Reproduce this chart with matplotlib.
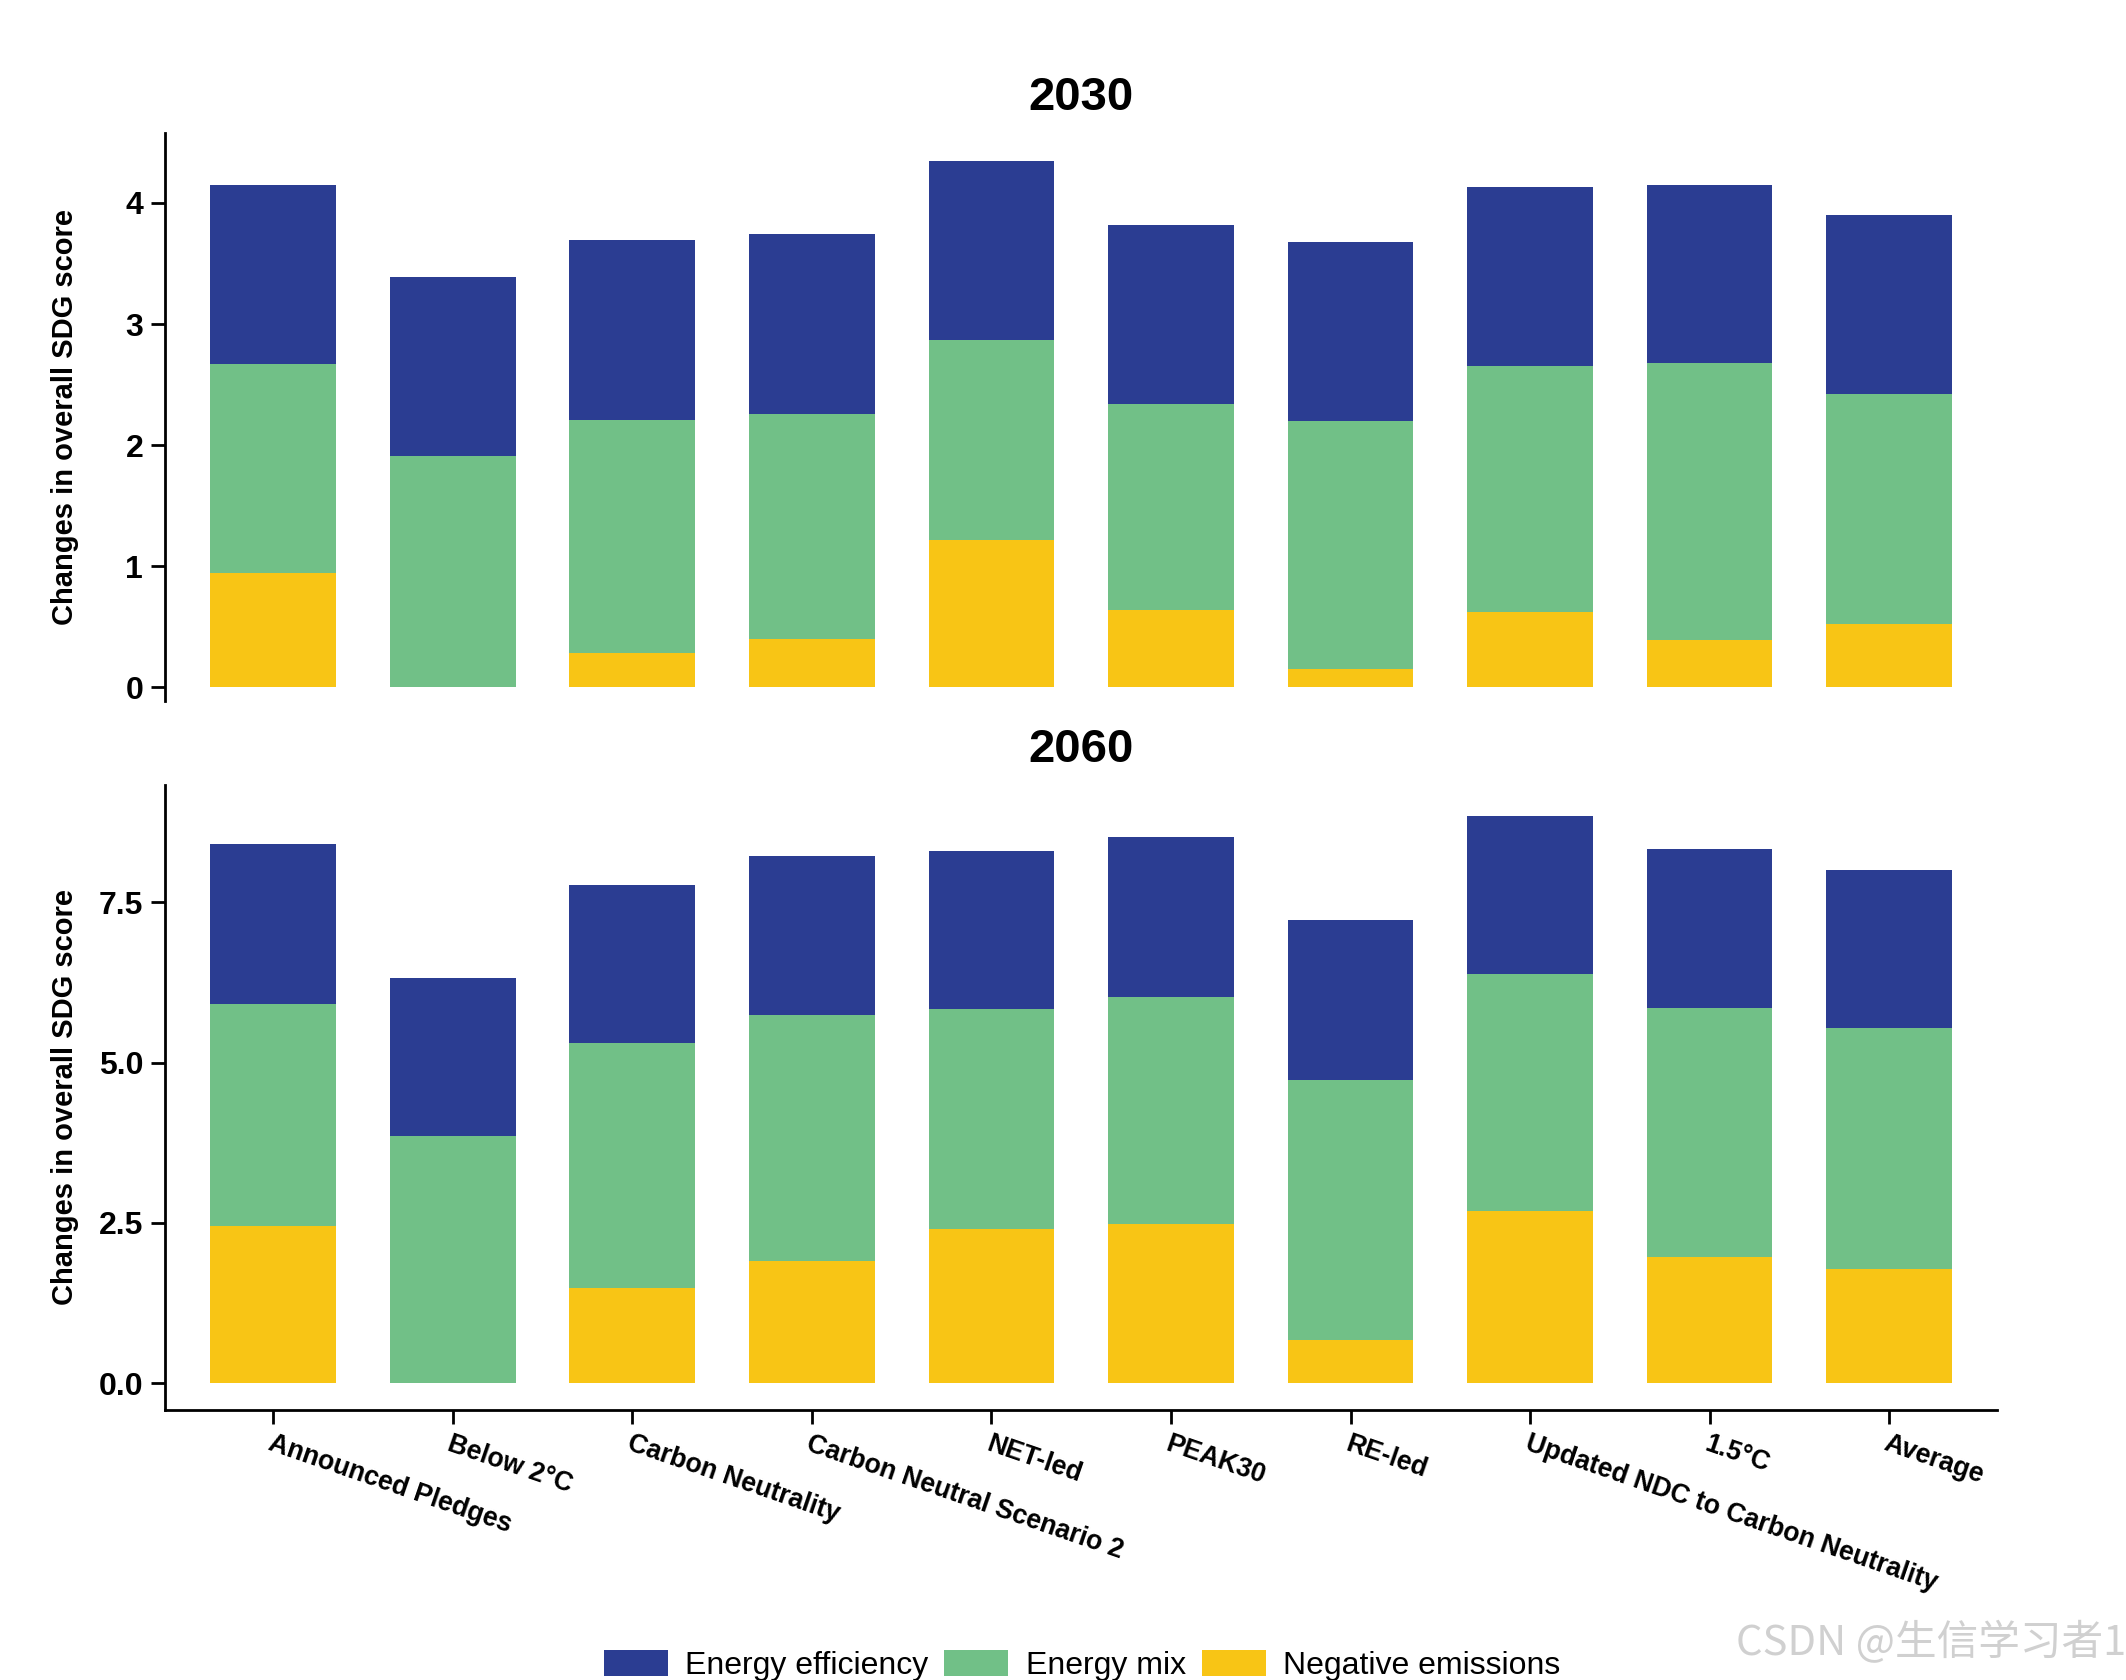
import matplotlib
matplotlib.use("Agg")
import matplotlib.pyplot as plt
import numpy as np

plt.rcParams['font.family'] = ['Liberation Sans', 'DejaVu Sans']

scenarios = ["Announced Pledges", "Below 2°C", "Carbon Neutrality", "Carbon Neutral Scenario 2",
             "NET-led", "PEAK30", "RE-led", "Updated NDC to Carbon Neutrality", "1.5°C", "Average"]

components = ["Energy efficiency", "Energy mix", "Negative emissions"]
colors = {"Energy efficiency": "#2B3D92", "Energy mix": "#71C087", "Negative emissions": "#F8C515"}

# 2030 segment values
neg_2030 = [0.94, 0.00, 0.28, 0.40, 1.22, 0.64, 0.15, 0.62, 0.39, 0.52]
mix_2030 = [1.73, 1.91, 1.93, 1.86, 1.65, 1.70, 2.05, 2.03, 2.29, 1.90]
eff_2030 = [1.48, 1.48, 1.48, 1.48, 1.48, 1.48, 1.48, 1.48, 1.47, 1.48]

# 2060 segment values
neg_2060 = [2.45, 0.00, 1.48, 1.90, 2.41, 2.49, 0.68, 2.68, 1.97, 1.78]
mix_2060 = [3.47, 3.85, 3.82, 3.85, 3.42, 3.53, 4.05, 3.70, 3.88, 3.76]
eff_2060 = [2.49, 2.47, 2.48, 2.47, 2.48, 2.50, 2.50, 2.47, 2.48, 2.47]

fig = plt.figure(figsize=(10.63, 8.4), dpi=200)
ax1 = fig.add_axes([0.0778, 0.583, 0.8615, 0.338])
ax2 = fig.add_axes([0.0778, 0.1607, 0.8615, 0.3723])

x = np.arange(len(scenarios))
w = 0.7

def draw(ax, neg, mix, eff):
    neg = np.array(neg); mix = np.array(mix); eff = np.array(eff)
    ax.bar(x, neg, w, color=colors["Negative emissions"], label="Negative emissions", linewidth=0)
    ax.bar(x, mix, w, bottom=neg, color=colors["Energy mix"], label="Energy mix", linewidth=0)
    ax.bar(x, eff, w, bottom=neg + mix, color=colors["Energy efficiency"], label="Energy efficiency", linewidth=0)
    ax.set_xlim(-0.6, 9.6)
    for s in ["top", "right"]:
        ax.spines[s].set_visible(False)
    for s in ["left", "bottom"]:
        ax.spines[s].set_linewidth(1.0)
    ax.tick_params(axis='y', length=5, width=1.0, labelsize=11.5, pad=3)
    ax.set_ylabel("Changes in overall SDG score", fontsize=10.5, fontweight='bold')
    ax.yaxis.set_label_coords(-0.047, 0.5)

draw(ax1, neg_2030, mix_2030, eff_2030)
ax1.set_ylim(-0.11, 4.58)
ax1.set_yticks([0, 1, 2, 3, 4])
ax1.set_yticklabels(["0", "1", "2", "3", "4"], fontweight='bold')
ax1.spines["bottom"].set_visible(False)
ax1.set_xticks([])
ax1.set_title("2030", fontsize=17, fontweight='bold', pad=8)

draw(ax2, neg_2060, mix_2060, eff_2060)
ax2.set_ylim(-0.42, 9.34)
ax2.set_yticks([0, 2.5, 5.0, 7.5])
ax2.set_yticklabels(["0.0", "2.5", "5.0", "7.5"], fontweight='bold')
ax2.set_xticks(x)
ax2.set_xticklabels(scenarios, rotation=-19, ha='left', rotation_mode='anchor',
                    fontsize=9.6, fontweight='bold')
ax2.tick_params(axis='x', length=5, width=1.0, pad=2.5)
ax2.set_title("2060", fontsize=17, fontweight='bold', pad=8)

h, l = ax2.get_legend_handles_labels()
order = [2, 1, 0]
fig.legend([h[i] for i in order], [l[i] for i in order], loc='center',
           bbox_to_anchor=(0.509, 0.0085), ncol=3, frameon=False, fontsize=11.5,
           handlelength=2.0, handleheight=0.85, handletextpad=0.55, columnspacing=0.5,
           borderaxespad=0, borderpad=0)

fig.text(0.8165, 0.022, "CSDN @生信学习者1", fontsize=15, color='#d0d0d0',
         family=['Noto Sans CJK SC', 'DejaVu Sans'], va='center', ha='left')

fig.savefig("out.png", dpi=200)
